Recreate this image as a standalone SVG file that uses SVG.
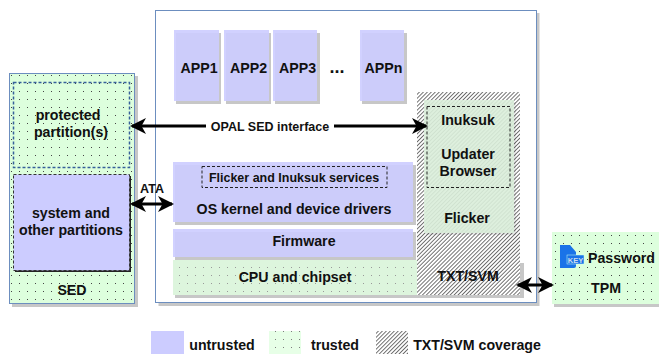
<svg xmlns="http://www.w3.org/2000/svg" width="659" height="354" viewBox="0 0 659 354">
<style>
text{font-family:"Liberation Sans",Arial,sans-serif;font-weight:700;font-size:14.200px;fill:#111;text-anchor:middle}
.sm{font-size:12.500px}
.u{fill:#ccccff;fill-opacity:.9}
.sh{fill:#000;fill-opacity:.22}
.ar{stroke:#000;stroke-width:3;fill:none;marker-start:url(#a);marker-end:url(#a)}
</style>
<defs>
<pattern id="dots" width="8" height="8" patternUnits="userSpaceOnUse"><rect width="8" height="8" fill="#ddffdd"/><rect x="3" y="3" width="1" height="1" fill="#444"/></pattern>
<pattern id="dotsl" width="8" height="8" patternUnits="userSpaceOnUse"><rect width="8" height="8" fill="#ddf5dd"/><rect x="3" y="3" width="1" height="1" fill="#999"/></pattern>
<pattern id="hatch" width="2.800" height="2.800" patternUnits="userSpaceOnUse" patternTransform="rotate(-45)"><rect width="2.800" height="2.800" fill="#fff"/><rect width="2.800" height=".9" fill="#666"/></pattern>
<marker id="a" viewBox="0 0 16 16" refX="14" refY="8" markerWidth="16" markerHeight="16" markerUnits="userSpaceOnUse" orient="auto-start-reverse"><path d="M0 0L16 8L0 16L4.500 8Z" fill="#000"/></marker>
</defs>
<g id="platform"><rect x="158.500" y="13" width="381" height="293" class="sh"/><rect x="155.500" y="10.500" width="381" height="292" fill="#fff" stroke="#6c8ebf"/></g>
<g id="sed"><rect x="12" y="76" width="126" height="231" class="sh"/><rect x="9.500" y="73.500" width="125" height="230" fill="url(#dots)" stroke="#6c8ebf"/><text x="72" y="295">SED</text></g>
<g id="protected"><rect x="13.500" y="82.500" width="116" height="85" fill="url(#dots)" stroke="#36609a" stroke-width="1.500" stroke-dasharray="3 2"/><text x="68" y="120">protected</text><text x="71" y="137">partition(s)</text></g>
<g id="system"><rect x="15" y="176" width="116" height="96" fill="#222"/><rect x="13.500" y="174.500" width="116" height="96" fill="#ccccff" stroke="#333" stroke-dasharray="3 2"/><text x="71" y="218">system and</text><text x="71" y="235">other partitions</text></g>
<g id="app1"><rect x="176" y="33" width="45" height="71" class="sh"/><rect x="174" y="30" width="45" height="71" class="u"/><text x="199" y="73">APP1</text></g>
<g id="app2"><rect x="226" y="33" width="45" height="71" class="sh"/><rect x="224" y="30" width="45" height="71" class="u"/><text x="248.500" y="73">APP2</text></g>
<g id="app3"><rect x="275" y="33" width="45" height="71" class="sh"/><rect x="273" y="30" width="44" height="71" class="u"/><text x="297.500" y="73">APP3</text></g>
<g id="dots-label"><text x="337" y="73" style="font-size:18px">...</text></g>
<g id="appn"><rect x="362" y="33" width="45" height="71" class="sh"/><rect x="360" y="30" width="44" height="71" class="u"/><text x="383.500" y="73">APPn</text></g>
<g id="os"><rect x="175" y="165" width="241" height="60" class="sh"/><rect x="173" y="162" width="240" height="60" class="u"/><text x="294" y="214">OS kernel and device drivers</text></g>
<g id="services"><rect x="202" y="166.500" width="185" height="21" fill="none" stroke="#222" stroke-dasharray="3 2"/><text x="294" y="182" class="sm">Flicker and Inuksuk services</text></g>
<g id="firmware"><rect x="175" y="232" width="241" height="28" class="sh"/><rect x="173" y="229" width="240" height="28" class="u"/><text x="304" y="246">Firmware</text></g>
<g id="cpu"><rect x="175" y="263" width="349" height="35" class="sh"/><rect x="173" y="260" width="347" height="35" fill="url(#dotsl)"/><text x="295" y="282">CPU and chipset</text></g>
<g id="txt"><rect x="417" y="92" width="103" height="203" fill="url(#hatch)"/><text x="468" y="281">TXT/SVM</text></g>
<g id="flicker"><rect x="426" y="102" width="90" height="133" class="sh" style="fill-opacity:.08"/><rect x="424" y="100" width="90" height="133" fill="#dcefdb" fill-opacity=".9"/><text x="467" y="223">Flicker</text></g>
<g id="inuksuk"><rect x="427" y="106.500" width="83" height="81" fill="none" stroke="#222" stroke-dasharray="3 2"/><text x="468" y="125">Inuksuk</text><text x="468" y="159">Updater</text><text x="468" y="176">Browser</text></g>
<g id="tpm"><rect x="554" y="235" width="105" height="72" class="sh"/><rect x="552" y="232" width="107" height="72" fill="url(#dots)"/><path d="M560 245h10l6 7v14a2 2 0 0 1-2 2h-14z" fill="#1a73e8"/><rect x="567" y="255" width="17" height="9" fill="#1a73e8" stroke="#cfe" stroke-width=".5"/><text x="575.500" y="263" style="font-size:7.500px;fill:#cde">KEY</text><text x="621.500" y="263">Password</text><text x="606" y="293">TPM</text></g>
<g id="connectors"><path d="M132 126H426" class="ar"/><path d="M132 204H172" class="ar"/><path d="M518 285H552" class="ar"/>
<rect x="206" y="119" width="128" height="14" fill="#fff"/><text x="270" y="131" class="sm">OPAL SED interface</text><text x="152" y="193" class="sm">ATA</text></g>
<g id="legend"><rect x="151" y="331" width="33" height="23" fill="#ccccff"/><text x="222" y="350">untrusted</text><rect x="269" y="331" width="32" height="23" fill="url(#dots)" opacity=".7"/><text x="335" y="350">trusted</text><rect x="376" y="331" width="32" height="23" fill="url(#hatch)"/><text x="477" y="350">TXT/SVM coverage</text></g>
</svg>
